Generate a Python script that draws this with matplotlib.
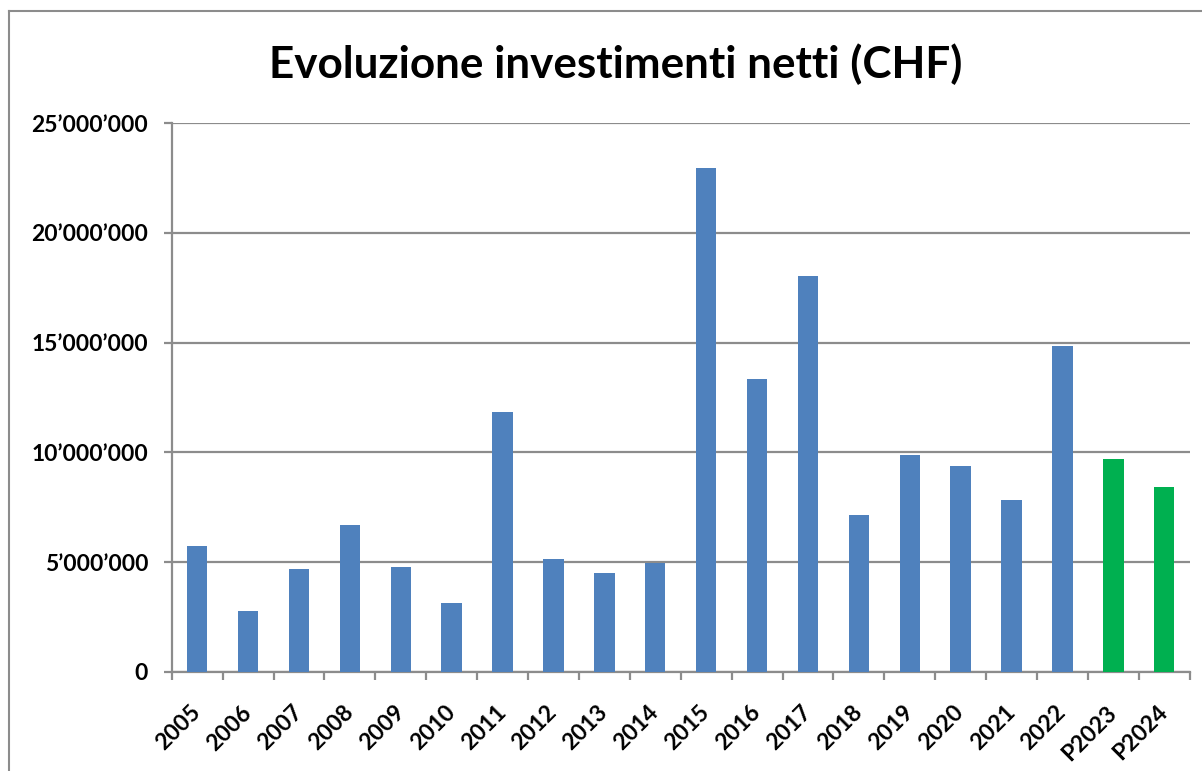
import matplotlib
matplotlib.use("Agg")
import matplotlib.pyplot as plt
from matplotlib.ticker import FuncFormatter, FixedLocator
from matplotlib.lines import Line2D

categories = ["2005", "2006", "2007", "2008", "2009", "2010", "2011", "2012", "2013", "2014",
              "2015", "2016", "2017", "2018", "2019", "2020", "2021", "2022", "P2023", "P2024"]
values = [5.75, 2.75, 4.67, 6.68, 4.76, 3.12, 11.86, 5.13, 4.49, 4.96,
          22.95, 13.35, 18.04, 7.15, 9.88, 9.39, 7.84, 14.85, 9.70, 8.42]  # millions CHF
is_forecast = [c.startswith("P") for c in categories]
y_ticks = [0, 5_000_000, 10_000_000, 15_000_000, 20_000_000, 25_000_000]
title = "Evoluzione investimenti netti (CHF)"

BLUE = "#4F81BD"
GREEN = "#00B050"
GRID = "#8C8C8C"

plt.rcParams['font.family'] = ['Lato', 'DejaVu Sans']

fig = plt.figure(figsize=(12.02, 7.71), dpi=100)
ax = fig.add_axes([171.7 / 1202, 1 - 671.7 / 771, (1189.7 - 171.7) / 1202, (671.7 - 123.3) / 771])

x = list(range(len(categories)))
vals = [v * 1_000_000 for v in values]
colors = [GREEN if f else BLUE for f in is_forecast]
ax.bar(x, vals, width=0.4, color=colors, zorder=3)

ax.set_xlim(-0.5, len(categories) - 0.5)
ax.set_ylim(0, 25_000_000)
ax.set_yticks(y_ticks)
ax.yaxis.set_major_formatter(FuncFormatter(lambda v, p: f"{int(v):,}".replace(",", "\u2019")))
ax.grid(axis='y', color=GRID, linewidth=1.6, zorder=0)
ax.set_axisbelow(True)

for s in ['top', 'right']:
    ax.spines[s].set_visible(False)
for s in ['left', 'bottom']:
    ax.spines[s].set_color(GRID)
    ax.spines[s].set_linewidth(1.6)

ax.set_xticks(x)
ax.set_xticklabels(categories, rotation=45, ha='right', va='center', rotation_mode='anchor',
                   fontsize=16.5, fontweight='bold')
ax.tick_params(axis='x', which='major', length=0, pad=27)
ax.xaxis.set_minor_locator(FixedLocator([i - 0.5 for i in range(len(categories) + 1)]))
ax.tick_params(axis='x', which='minor', length=6, width=1.6, color=GRID, direction='out')
ax.tick_params(axis='y', which='major', length=6, width=1.6, color=GRID, pad=11, labelsize=16.5)
for lbl in ax.get_yticklabels():
    lbl.set_fontweight('bold')

fig.text(616 / 1202, 1 - 64 / 771, title, ha='center', va='center', fontsize=31.7, fontweight='bold')

# chart outer frame (left and top edges visible)
fig.add_artist(Line2D([9 / 1202, 9 / 1202], [0, 1 - 11 / 771], transform=fig.transFigure, color=GRID, linewidth=1.5))
fig.add_artist(Line2D([9 / 1202, 1], [1 - 11 / 771, 1 - 11 / 771], transform=fig.transFigure, color=GRID, linewidth=1.5))

fig.savefig("out.png", dpi=100)
